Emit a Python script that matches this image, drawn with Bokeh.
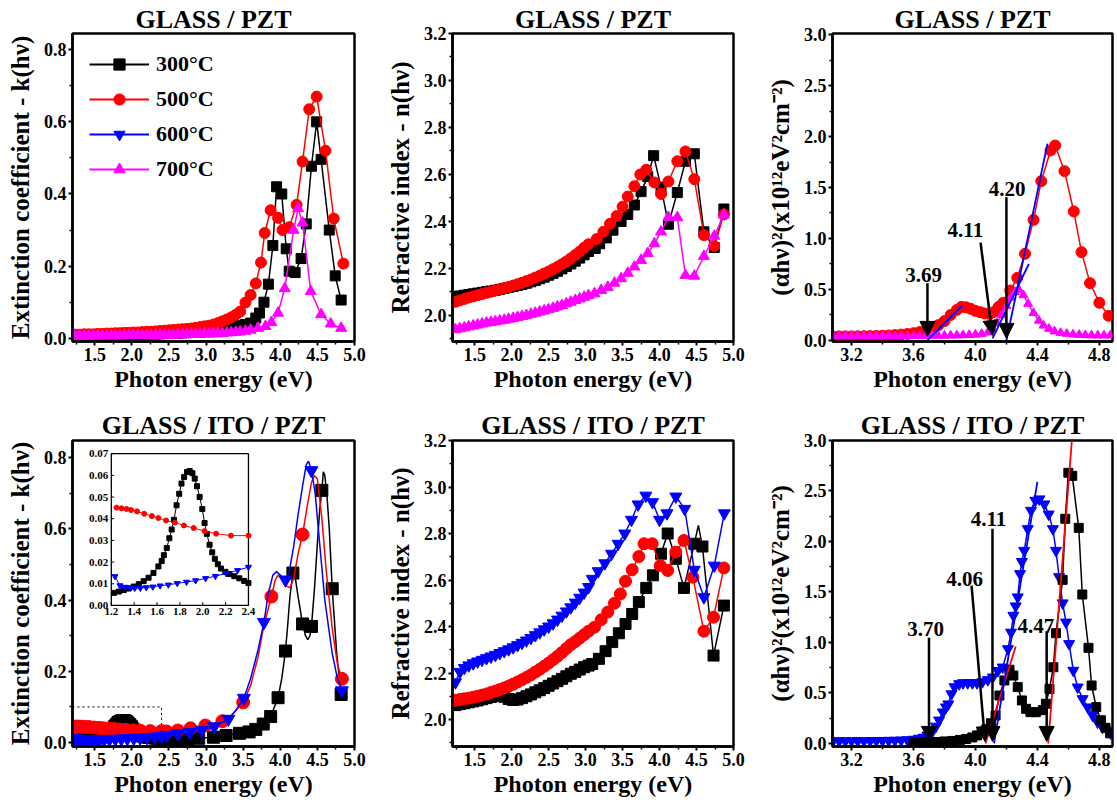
from bokeh.plotting import figure
from bokeh.layouts import row, column
from bokeh.models import (Range1d, FixedTicker, PrintfTickFormatter, Legend, LegendItem,
                          Arrow, NormalHead)
from bokeh.core.properties import value
from bokeh.embed import file_html
from bokeh.resources import INLINE

FONT = "Liberation Serif"
C300, C500, C600, C700 = "#000000", "#FF0000", "#0000FF", "#FF00FF"
NAN = float("nan")

# ---------------- shared tick values ----------------
x_ticks_wide = [1.5, 2.0, 2.5, 3.0, 3.5, 4.0, 4.5, 5.0]
x_minor_wide = [1.25, 1.75, 2.25, 2.75, 3.25, 3.75, 4.25, 4.75]
x_ticks_edge = [3.2, 3.6, 4.0, 4.4, 4.8]
x_minor_edge = [3.4, 3.8, 4.2, 4.6]
k_ticks = [0.0, 0.2, 0.4, 0.6, 0.8]
k_minor = [0.1, 0.3, 0.5, 0.7]
n_ticks = [2.0, 2.2, 2.4, 2.6, 2.8, 3.0, 3.2]
n_minor = [1.9, 2.1, 2.3, 2.5, 2.7, 2.9, 3.1]
a_ticks = [0.0, 0.5, 1.0, 1.5, 2.0, 2.5, 3.0]
a_minor = [0.25, 0.75, 1.25, 1.75, 2.25, 2.75]

legend_labels = ["300°C", "500°C", "600°C", "700°C"]

# ---------------- Panel A: GLASS/PZT extinction coefficient ----------------
e_low_a = [1.24, 1.30, 1.36, 1.42, 1.48, 1.54, 1.60, 1.66, 1.72, 1.78, 1.84, 1.90, 1.96, 2.02,
           2.08, 2.14, 2.20, 2.26, 2.32, 2.38, 2.44, 2.50, 2.56, 2.62, 2.68, 2.74, 2.80, 2.86,
           2.92, 2.98, 3.04, 3.10, 3.16, 3.22, 3.28, 3.34, 3.40, 3.46]
k300_a_low = [.008, .008, .008, .008, .008, .009, .009, .009, .009, .009, .010, .010, .010, .010,
              .011, .011, .011, .012, .012, .012, .013, .013, .014, .014, .015, .016, .017, .018,
              .019, .020, .021, .022, .024, .025, .027, .029, .032, .035]
k300_a_hi_x = [3.53, 3.60, 3.67, 3.72, 3.78, 3.84, 3.90, 3.95, 4.02, 4.08, 4.12, 4.20, 4.28, 4.35,
               4.42, 4.49, 4.55, 4.66, 4.74, 4.82]
k300_a_hi_y = [0.038, 0.042, 0.056, 0.07, 0.10, 0.15, 0.257, 0.42, 0.40, 0.248, 0.186, 0.182, 0.221,
               0.317, 0.477, 0.60, 0.496, 0.30, 0.173, 0.106]
k500_a_low = [.010, .010, .011, .011, .011, .012, .012, .013, .013, .014, .014, .015, .015, .016,
              .016, .017, .018, .018, .019, .020, .021, .022, .023, .024, .025, .026, .027, .029,
              .031, .033, .035, .038, .042, .047, .052, .058, .065, .074]
k500_a_hi_x = [3.53, 3.60, 3.67, 3.74, 3.79, 3.87, 3.97, 4.03, 4.12, 4.22, 4.30, 4.39, 4.49, 4.61,
               4.72, 4.85]
k500_a_hi_y = [0.099, 0.12, 0.152, 0.21, 0.292, 0.355, 0.334, 0.30, 0.308, 0.37, 0.49, 0.635, 0.67,
               0.52, 0.332, 0.207]
k700_a_low = [.007, .007, .007, .007, .007, .007, .007, .007, .007, .007, .007, .008, .008, .008,
              .008, .008, .008, .008, .009, .009, .009, .009, .009, .010, .010, .010, .011, .011,
              .011, .012, .012, .013, .013, .014, .015, .016, .017, .018]
k700_a_hi_x = [3.53, 3.60, 3.70, 3.80, 3.88, 3.97, 4.06, 4.18, 4.24, 4.30, 4.41, 4.55, 4.68, 4.82]
k700_a_hi_y = [0.020, 0.023, 0.028, 0.033, 0.044, 0.07, 0.138, 0.30, 0.36, 0.32, 0.13, 0.066, 0.04,
               0.028]

# ---------------- Panel B: GLASS/PZT refractive index ----------------
e_low_b = [1.24, 1.30, 1.36, 1.42, 1.48, 1.54, 1.60, 1.66, 1.72, 1.78, 1.84, 1.90, 1.96, 2.02,
           2.08, 2.14, 2.20, 2.26, 2.32, 2.38, 2.44, 2.50, 2.56, 2.62, 2.68, 2.74, 2.80, 2.86,
           2.92, 2.98, 3.04]
n300_b_low = [2.080, 2.083, 2.086, 2.089, 2.092, 2.095, 2.098, 2.101, 2.104, 2.107, 2.111, 2.115,
              2.119, 2.123, 2.127, 2.132, 2.137, 2.143, 2.149, 2.156, 2.163, 2.171, 2.179, 2.188,
              2.198, 2.208, 2.219, 2.231, 2.244, 2.258, 2.272]
n300_b_hi_x = [3.13, 3.19, 3.28, 3.37, 3.48, 3.57, 3.66, 3.75, 3.84, 3.92, 4.02, 4.12, 4.24, 4.35,
               4.47, 4.60, 4.74, 4.87]
n300_b_hi_y = [2.285, 2.305, 2.33, 2.363, 2.40, 2.43, 2.47, 2.527, 2.591, 2.68, 2.546, 2.388, 2.523,
               2.656, 2.688, 2.356, 2.289, 2.453]
n500_b_low = [2.058, 2.064, 2.070, 2.076, 2.081, 2.086, 2.091, 2.096, 2.101, 2.106, 2.111, 2.116,
              2.121, 2.127, 2.133, 2.139, 2.146, 2.153, 2.161, 2.169, 2.178, 2.187, 2.197, 2.207,
              2.218, 2.230, 2.243, 2.257, 2.272, 2.288, 2.303]
n500_b_hi_x = [3.15, 3.24, 3.33, 3.42, 3.50, 3.57, 3.66, 3.74, 3.82, 3.93, 4.02, 4.12, 4.24, 4.35,
               4.47, 4.60, 4.74, 4.87]
n500_b_hi_y = [2.325, 2.356, 2.39, 2.423, 2.463, 2.506, 2.55, 2.60, 2.62, 2.566, 2.517, 2.57, 2.656,
               2.698, 2.58, 2.342, 2.295, 2.43]
n700_b_low = [1.940, 1.944, 1.948, 1.952, 1.956, 1.960, 1.964, 1.968, 1.971, 1.974, 1.977, 1.980,
              1.984, 1.988, 1.992, 1.996, 2.000, 2.005, 2.010, 2.015, 2.020, 2.025, 2.031, 2.037,
              2.043, 2.050, 2.057, 2.064, 2.071, 2.078, 2.085]
n700_b_hi_x = [3.12, 3.21, 3.30, 3.39, 3.48, 3.57, 3.66, 3.75, 3.84, 3.93, 4.02, 4.12, 4.24, 4.35,
               4.47, 4.60, 4.74, 4.87]
n700_b_hi_y = [2.093, 2.107, 2.12, 2.138, 2.157, 2.18, 2.207, 2.235, 2.264, 2.306, 2.356, 2.418,
               2.417, 2.171, 2.168, 2.252, 2.338, 2.428]

# ---------------- Panel C: GLASS/PZT (alpha h nu)^2 ----------------
a500_c_x = [3.08, 3.12, 3.16, 3.20, 3.24, 3.28, 3.32, 3.36, 3.40, 3.44, 3.48, 3.52, 3.56, 3.60,
            3.64, 3.68, 3.72, 3.76, 3.80, 3.84, 3.88, 3.91, 3.94, 3.97, 4.00, 4.03, 4.06, 4.09,
            4.12, 4.15, 4.18, 4.225, 4.27, 4.32, 4.375, 4.425, 4.485, 4.515, 4.575, 4.635, 4.685,
            4.74, 4.80, 4.86]
a500_c_y = [.04, .04, .04, .04, .041, .042, .043, .045, .047, .05, .053, .058, .064, .072, .082,
            .095, .112, .15, .19, .25, .30, .33, .325, .31, .29, .278, .265, .26, .28, .33, .37,
            .49, .614, .85, 1.183, 1.562, 1.863, 1.912, 1.66, 1.265, .866, .562, .37, .242]
a700_c_x = [3.08, 3.12, 3.16, 3.20, 3.24, 3.28, 3.32, 3.36, 3.40, 3.44, 3.48, 3.52, 3.56, 3.60,
            3.64, 3.68, 3.72, 3.76, 3.80, 3.84, 3.88, 3.92, 3.96, 4.00, 4.04, 4.08, 4.11, 4.14,
            4.17, 4.20, 4.23, 4.255, 4.28, 4.31, 4.34, 4.375, 4.41, 4.44, 4.475, 4.51, 4.55, 4.59,
            4.63, 4.67, 4.71, 4.75, 4.79, 4.83, 4.87]
a700_c_y = [.045, .045, .045, .045, .045, .045, .045, .045, .045, .045, .045, .045, .045, .045,
            .046, .046, .047, .047, .048, .049, .050, .052, .055, .058, .065, .08, .11, .17, .25,
            .34, .42, .475, .50, .445, .36, .27, .195, .147, .115, .09, .075, .066, .06, .056,
            .053, .051, .05, .05, .05]
c_fit_x0 = [3.69, 4.20, 4.11]
c_fit_y0 = [0.0, 0.0, 0.02]
c_fit_x1 = [3.915, 4.465, 4.345]
c_fit_y1 = [0.343, 1.93, 0.75]
c_arrow_x0 = [3.69, 4.033, 4.20]
c_arrow_y0 = [0.56, 0.96, 1.405]
c_arrow_x1 = [3.69, 4.11, 4.20]
c_arrow_y1 = [0.04, 0.05, 0.02]
c_lab_text = ["3.69", "4.11", "4.20"]
c_lab_x = [3.665, 3.935, 4.205]
c_lab_y = [0.64, 1.085, 1.49]

# ---------------- Panel D: GLASS/ITO/PZT extinction coefficient (+ inset) ----------------
ins_300_x = [1.223, 1.266, 1.31, 1.353, 1.396, 1.44, 1.483, 1.526, 1.569, 1.612, 1.641, 1.66,
             1.685, 1.708, 1.728, 1.748, 1.771, 1.794, 1.814, 1.837, 1.863, 1.886, 1.91, 1.93,
             1.95, 1.973, 1.996, 2.016, 2.036, 2.06, 2.083, 2.106, 2.132, 2.16, 2.198, 2.233,
             2.276, 2.32, 2.363, 2.40]
ins_300_y = [0.0058, 0.0064, 0.0071, 0.0078, 0.0087, 0.0098, 0.0112, 0.0128, 0.0150, 0.0180,
             0.0205, 0.0232, 0.0265, 0.031, 0.035, 0.0395, 0.0462, 0.0515, 0.0562, 0.0592,
             0.0615, 0.062, 0.061, 0.0585, 0.055, 0.050, 0.0445, 0.038, 0.033, 0.028, 0.0245,
             0.0215, 0.019, 0.017, 0.0155, 0.0145, 0.0135, 0.0125, 0.0113, 0.0103]
ins_500_x = [1.246, 1.289, 1.333, 1.373, 1.425, 1.488, 1.555, 1.612, 1.679, 1.757, 1.835, 1.921,
             2.016, 2.117, 2.247, 2.40]
ins_500_y = [0.0451, 0.0448, 0.0445, 0.044, 0.0434, 0.0423, 0.0412, 0.0403, 0.0392, 0.0382,
             0.0369, 0.0357, 0.0343, 0.0331, 0.0322, 0.0322]
ins_600_x = [1.232, 1.275, 1.318, 1.362, 1.405, 1.454, 1.506, 1.563, 1.627, 1.699, 1.777, 1.858,
             1.938, 2.025, 2.111, 2.204, 2.305, 2.40]
ins_600_y = [0.0134, 0.0092, 0.0085, 0.0082, 0.008, 0.008, 0.0083, 0.0086, 0.0091, 0.0095,
             0.0102, 0.0108, 0.0115, 0.0125, 0.0135, 0.0148, 0.0162, 0.0177]
ins_xticks = [1.2, 1.4, 1.6, 1.8, 2.0, 2.2, 2.4]
ins_yticks = [0.00, 0.01, 0.02, 0.03, 0.04, 0.05, 0.06, 0.07]

k300_d_x = [2.47, 2.60, 2.75, 2.90, 3.10, 3.27, 3.45, 3.58, 3.67, 3.77, 3.87, 3.97, 4.07, 4.17,
            4.30, 4.42, 4.56, 4.70, 4.82]
k300_d_y = [0.0095, 0.009, 0.009, 0.012, 0.015, 0.020, 0.026, 0.030, 0.037, 0.052, 0.073, 0.126,
            0.257, 0.476, 0.333, 0.326, 0.708, 0.432, 0.135]
k300_d_curve_x = [3.97, 4.02, 4.07, 4.10, 4.13, 4.17, 4.20, 4.24, 4.30, 4.34, 4.37, 4.40, 4.42,
                  4.46, 4.50, 4.53, 4.56, 4.58, 4.60, 4.63, 4.66, 4.70, 4.76, 4.82]
k300_d_curve_y = [0.126, 0.18, 0.257, 0.33, 0.41, 0.476, 0.465, 0.41, 0.333, 0.30, 0.289, 0.30,
                  0.326, 0.43, 0.56, 0.65, 0.708, 0.76, 0.75, 0.69, 0.60, 0.432, 0.25, 0.135]
k500_d_x = [2.47, 2.62, 2.79, 2.99, 3.22, 3.50, 3.88, 4.30, 4.83]
k500_d_y = [0.031, 0.034, 0.040, 0.048, 0.060, 0.113, 0.41, 0.584, 0.179]
k500_d_curve_x = [3.22, 3.35, 3.50, 3.60, 3.70, 3.78, 3.88, 3.93, 3.97, 4.02, 4.08, 4.13, 4.18,
                  4.24, 4.30, 4.36, 4.42, 4.46, 4.50, 4.56, 4.62, 4.70, 4.77, 4.83]
k500_d_curve_y = [0.060, 0.078, 0.113, 0.16, 0.24, 0.33, 0.41, 0.455, 0.47, 0.46, 0.44, 0.435,
                  0.46, 0.53, 0.584, 0.66, 0.73, 0.75, 0.74, 0.63, 0.48, 0.32, 0.22, 0.179]
k600_d_x = [2.47, 2.62, 2.78, 2.94, 3.11, 3.30, 3.51, 3.78, 4.07, 4.42, 4.83]
k600_d_y = [0.021, 0.025, 0.029, 0.035, 0.045, 0.066, 0.125, 0.338, 0.457, 0.764, 0.146]
k600_d_curve_x = [3.30, 3.40, 3.51, 3.60, 3.70, 3.78, 3.84, 3.90, 3.95, 4.00, 4.07, 4.12, 4.18,
                  4.24, 4.30, 4.35, 4.38, 4.42, 4.47, 4.53, 4.60, 4.70, 4.77, 4.83]
k600_d_curve_y = [0.066, 0.09, 0.125, 0.18, 0.26, 0.338, 0.42, 0.47, 0.48, 0.47, 0.457, 0.48,
                  0.55, 0.64, 0.72, 0.78, 0.79, 0.764, 0.70, 0.56, 0.40, 0.25, 0.18, 0.146]
zoom_box_x = [1.2, 2.4, 2.4]
zoom_box_y = [0.10, 0.10, -0.011]

# ---------------- Panel E: GLASS/ITO/PZT refractive index ----------------
e_low_e = [1.24, 1.30, 1.36, 1.42, 1.48, 1.54, 1.60, 1.66, 1.72, 1.78, 1.84, 1.90, 1.96, 2.02,
           2.08, 2.14, 2.20, 2.26, 2.32, 2.38, 2.44, 2.50, 2.56, 2.62, 2.68, 2.74, 2.80, 2.86,
           2.92, 2.98, 3.04]
n300_e_low = [2.062, 2.066, 2.070, 2.074, 2.078, 2.082, 2.087, 2.092, 2.097, 2.102, 2.104, 2.098,
              2.088, 2.084, 2.086, 2.092, 2.100, 2.108, 2.117, 2.126, 2.135, 2.145, 2.155, 2.165,
              2.175, 2.186, 2.197, 2.205, 2.215, 2.225, 2.232]
n300_e_hi_x = [3.09, 3.18, 3.27, 3.36, 3.45, 3.54, 3.63, 3.72, 3.82, 3.91, 4.02, 4.11, 4.22, 4.33,
               4.47, 4.58, 4.73, 4.87]
n300_e_hi_y = [2.239, 2.261, 2.294, 2.333, 2.371, 2.411, 2.454, 2.505, 2.566, 2.62, 2.713, 2.80,
               2.691, 2.566, 2.756, 2.744, 2.275, 2.49]
n300_e_crest = (4.525, 2.835)
n500_e_low = [2.083, 2.086, 2.089, 2.092, 2.096, 2.100, 2.105, 2.110, 2.116, 2.122, 2.129, 2.136,
              2.144, 2.152, 2.161, 2.171, 2.181, 2.192, 2.204, 2.216, 2.229, 2.243, 2.257, 2.272,
              2.288, 2.305, 2.322, 2.335, 2.350, 2.365, 2.380]
n500_e_hi_x = [3.12, 3.21, 3.30, 3.39, 3.47, 3.54, 3.63, 3.72, 3.79, 3.90, 4.01, 4.11, 4.22, 4.33,
               4.45, 4.60, 4.73, 4.87]
n500_e_hi_y = [2.397, 2.429, 2.462, 2.50, 2.54, 2.595, 2.644, 2.701, 2.756, 2.756, 2.662, 2.641,
               2.72, 2.77, 2.612, 2.38, 2.44, 2.652]
n600_e_low = [2.160, 2.205, 2.222, 2.233, 2.242, 2.250, 2.257, 2.264, 2.271, 2.278, 2.286, 2.294,
              2.302, 2.311, 2.320, 2.330, 2.340, 2.351, 2.363, 2.375, 2.388, 2.400, 2.414, 2.430,
              2.447, 2.465, 2.483, 2.503, 2.524, 2.546, 2.570]
n600_e_hi_x = [3.09, 3.17, 3.26, 3.35, 3.44, 3.53, 3.62, 3.71, 3.815, 3.905, 4.00, 4.10, 4.22,
               4.34, 4.47, 4.60, 4.74, 4.875]
n600_e_hi_y = [2.605, 2.638, 2.672, 2.713, 2.756, 2.80, 2.859, 2.925, 2.963, 2.935, 2.859, 2.887,
               2.959, 2.906, 2.644, 2.526, 2.662, 2.887]

# ---------------- Panel F: GLASS/ITO/PZT (alpha h nu)^2 ----------------
a600_f_x = [3.08, 3.12, 3.16, 3.20, 3.24, 3.28, 3.32, 3.36, 3.40, 3.44, 3.48, 3.52, 3.56, 3.60,
            3.635, 3.665, 3.69, 3.715, 3.745, 3.765, 3.79, 3.81, 3.825, 3.845, 3.865, 3.895,
            3.92, 3.95, 3.98, 4.01, 4.045, 4.08, 4.112, 4.145, 4.176, 4.21, 4.23, 4.245, 4.26,
            4.273, 4.288, 4.30, 4.315, 4.338, 4.359, 4.387, 4.413, 4.445, 4.473, 4.50, 4.52,
            4.54, 4.563, 4.585, 4.605, 4.632, 4.66, 4.692, 4.725, 4.757, 4.789, 4.821, 4.855,
            4.875]
a600_f_y = [.025, .025, .025, .025, .026, .026, .027, .027, .028, .029, .03, .032, .035, .04,
            .05, .06, .08, .10, .17, .23, .31, .36, .39, .49, .56, .59, .60, .60, .60, .60, .61,
            .63, .656, .72, .755, .937, 1.10, 1.267, 1.36, 1.449, 1.68, 1.80, 1.91, 2.125, 2.307,
            2.406, 2.42, 2.37, 2.27, 2.125, 1.91, 1.65, 1.39, 1.20, .987, .723, .557, .442, .36,
            .277, .21, .16, .13, .10]
a300_f_x = [3.60, 3.65, 3.70, 3.75, 3.80, 3.85, 3.90, 3.94, 3.98, 4.01, 4.04, 4.07, 4.10, 4.13,
            4.155, 4.187, 4.22, 4.245, 4.273, 4.30, 4.327, 4.355, 4.39, 4.435, 4.455, 4.478,
            4.503, 4.52, 4.563, 4.58, 4.60, 4.625, 4.667, 4.69, 4.73, 4.75, 4.78, 4.81, 4.84,
            4.87]
a300_f_y = [.008, .009, .01, .015, .02, .025, .035, .045, .06, .08, .11, .14, .20, .277, .475,
            .624, .73, .673, .558, .426, .343, .31, .31, .33, .393, .54, .755, 1.092, 1.62, 2.225,
            2.68, 2.65, 2.135, 1.475, .947, .574, .36, .23, .155, .10]
f_red_fit_x0 = [4.065, 4.47]
f_red_fit_y0 = [0.0, 0.0]
f_red_fit_x1 = [4.26, 4.625]
f_red_fit_y1 = [0.96, 3.05]
f_blue_fit_x0 = [4.12]
f_blue_fit_y0 = [0.0]
f_blue_fit_x1 = [4.40]
f_blue_fit_y1 = [2.59]
f_arrow_x0 = [3.70, 3.975, 4.11, 4.46]
f_arrow_y0 = [1.046, 1.564, 2.125, 1.112]
f_arrow_x1 = [3.70, 4.062, 4.11, 4.46]
f_arrow_y1 = [0.02, 0.02, 0.02, 0.02]
f_lab_text = ["3.70", "4.06", "4.11", "4.47"]
f_lab_x = [3.678, 3.93, 4.084, 4.39]
f_lab_y = [1.135, 1.63, 2.225, 1.168]

# ---------------- layout constants (page origin at 0,0) ----------------
COL_W = [382, 370, 363]
COL_BL = [72, 70, 80]
COL_BR = [28, 19, 3]
ROW_H = [400, 401]
ROW_BT = [33, 40]
ROW_BB = [59, 55]
TITLE_STANDOFF = [0, 2]

TXT = dict(text_font=value(FONT), text_font_style="bold", text_color="black")


def make_fig(r, c, xr, yr, xt, xm, yt, ym, ylabel, title):
    p = figure(width=COL_W[c], height=ROW_H[r], x_range=Range1d(*xr), y_range=Range1d(*yr),
               output_backend="svg", toolbar_location=None, title=title,
               min_border_left=COL_BL[c], min_border_right=COL_BR[c],
               min_border_top=ROW_BT[r], min_border_bottom=ROW_BB[r])
    p.title.align = "center"
    p.title.text_font = FONT
    p.title.text_font_style = "bold"
    p.title.text_font_size = "26px"
    p.title.text_color = "black"
    p.title.standoff = TITLE_STANDOFF[r]
    p.xgrid.visible = False
    p.ygrid.visible = False
    p.outline_line_color = "black"
    p.outline_line_width = 2.5
    p.outline_line_alpha = 1.0
    p.background_fill_color = "white"
    p.border_fill_color = "white"
    p.xaxis.ticker = FixedTicker(ticks=xt, minor_ticks=xm)
    p.yaxis.ticker = FixedTicker(ticks=yt, minor_ticks=ym)
    p.xaxis.formatter = PrintfTickFormatter(format="%.1f")
    p.yaxis.formatter = PrintfTickFormatter(format="%.1f")
    p.xaxis.axis_label = "Photon energy (eV)"
    p.yaxis.axis_label = ylabel
    for ax in (p.xaxis[0], p.yaxis[0]):
        ax.axis_line_width = 2.5
        ax.axis_line_color = "black"
        ax.major_tick_line_width = 2
        ax.minor_tick_line_width = 1.5
        ax.major_tick_line_color = "black"
        ax.minor_tick_line_color = "black"
        ax.major_tick_in = 0
        ax.major_tick_out = 4
        ax.minor_tick_in = 0
        ax.minor_tick_out = 3
        ax.major_label_text_font = FONT
        ax.major_label_text_font_style = "bold"
        ax.major_label_text_font_size = "18px"
        ax.major_label_text_color = "black"
        ax.major_label_standoff = 2
        ax.axis_label_text_font = FONT
        ax.axis_label_text_font_style = "bold"
        ax.axis_label_text_color = "black"
    p.xaxis.axis_label_text_font_size = "24px"
    p.xaxis.axis_label_standoff = 2
    p.yaxis.axis_label_text_font_size = "25px"
    p.yaxis.axis_label_standoff = 7
    return p


def series(p, x, y, color, marker, size, lx=None, ly=None, lw=1.5):
    p.line(x if lx is None else lx, y if ly is None else ly, line_color=color, line_width=lw)
    p.scatter(x, y, marker=marker, size=size, fill_color=color, line_color=color)


def arrows(p, x0, y0, x1, y1):
    for a, b, cc, d in zip(x0, y0, x1, y1):
        p.add_layout(Arrow(end=NormalHead(size=15, fill_color="black", line_color="black",
                                          line_width=1),
                           x_start=a, y_start=b, x_end=cc, y_end=d,
                           line_width=2.5, line_color="black"))


K_LABEL = "Extinction coefficient - k(hν)"
N_LABEL = "Refractive index - n(hν)"
A_LABEL = "(αhν)²(x10¹²eV²cm⁻²)"

# ---- Panel A
pA = make_fig(0, 0, (1.2, 5.0), (-0.009, 0.845), x_ticks_wide, x_minor_wide, k_ticks, k_minor,
              K_LABEL, "GLASS / PZT")
series(pA, e_low_a + k300_a_hi_x, k300_a_low + k300_a_hi_y, C300, "square", 10)
series(pA, e_low_a + k500_a_hi_x, k500_a_low + k500_a_hi_y, C500, "circle", 11)
series(pA, e_low_a + k700_a_hi_x, k700_a_low + k700_a_hi_y, C700, "triangle", 11)
items = []
for lab, col, mk in zip(legend_labels, [C300, C500, C600, C700],
                        ["square", "circle", "inverted_triangle", "triangle"]):
    lr = pA.line([NAN], [NAN], line_color=col, line_width=2)
    sr = pA.scatter([NAN], [NAN], marker=mk, size=21, fill_color=col, line_color=col)
    items.append(LegendItem(label=lab, renderers=[lr, sr]))
leg = Legend(items=items, location="top_left", border_line_color=None, background_fill_alpha=0,
             label_text_font=FONT, label_text_font_style="bold", label_text_font_size="22px",
             label_text_color="black",
             glyph_width=60, glyph_height=28, label_height=28, spacing=7, margin=17, padding=12,
             label_standoff=7)
pA.add_layout(leg)

# ---- Panel B
pB = make_fig(0, 1, (1.2, 5.0), (1.889, 3.2), x_ticks_wide, x_minor_wide, n_ticks, n_minor,
              N_LABEL, "GLASS / PZT")
series(pB, e_low_b + n300_b_hi_x, n300_b_low + n300_b_hi_y, C300, "square", 10)
series(pB, e_low_b + n500_b_hi_x, n500_b_low + n500_b_hi_y, C500, "circle", 11)
series(pB, e_low_b + n700_b_hi_x, n700_b_low + n700_b_hi_y, C700, "triangle", 11)

# ---- Panel C
pC = make_fig(0, 2, (3.077, 4.885), (-0.01, 3.01), x_ticks_edge, x_minor_edge, a_ticks, a_minor,
              A_LABEL, "GLASS / PZT")
series(pC, a500_c_x, a500_c_y, C500, "circle", 11)
series(pC, a700_c_x, a700_c_y, C700, "triangle", 9)
pC.segment(c_fit_x0, c_fit_y0, c_fit_x1, c_fit_y1, line_color=C600, line_width=1.8)
arrows(pC, c_arrow_x0, c_arrow_y0, c_arrow_x1, c_arrow_y1)
pC.text(c_lab_x, c_lab_y, text=c_lab_text, text_align="center", text_baseline="alphabetic",
        text_font_size="21px", **TXT)

# ---- Panel D
pD = make_fig(1, 0, (1.2, 5.0), (-0.011, 0.848), x_ticks_wide, x_minor_wide, k_ticks, k_minor,
              K_LABEL, "GLASS / ITO / PZT")
pD.line(zoom_box_x, zoom_box_y, line_color="black", line_width=1, line_dash="2 3")
series(pD, ins_300_x + k300_d_x, ins_300_y + k300_d_y, C300, "square", 12,
       lx=ins_300_x + k300_d_x[:11] + k300_d_curve_x,
       ly=ins_300_y + k300_d_y[:11] + k300_d_curve_y)
series(pD, ins_500_x + k500_d_x, ins_500_y + k500_d_y, C500, "circle", 13,
       lx=ins_500_x + k500_d_x[:4] + k500_d_curve_x,
       ly=ins_500_y + k500_d_y[:4] + k500_d_curve_y)
series(pD, ins_600_x + k600_d_x, ins_600_y + k600_d_y, C600, "inverted_triangle", 13,
       lx=ins_600_x + k600_d_x[:5] + k600_d_curve_x,
       ly=ins_600_y + k600_d_y[:5] + k600_d_curve_y)
ins = pD.subplot(x_source=Range1d(1.2, 2.4), y_source=Range1d(0.0, 0.07),
                 x_target=Range1d(1.723, 3.571), y_target=Range1d(0.385, 0.811))
ins.quad(left=[ins_xticks[0]], right=[ins_xticks[-1]], bottom=[ins_yticks[0]],
         top=[ins_yticks[-1]], fill_color="white", line_color="black", line_width=1.3)
ins.line(ins_300_x, ins_300_y, line_color=C300, line_width=1)
ins.scatter(ins_300_x, ins_300_y, marker="square", size=5, fill_color=C300, line_color=C300)
ins.line(ins_500_x, ins_500_y, line_color=C500, line_width=1)
ins.scatter(ins_500_x, ins_500_y, marker="circle", size=5, fill_color=C500, line_color=C500)
ins.line(ins_600_x, ins_600_y, line_color=C600, line_width=1)
ins.scatter(ins_600_x, ins_600_y, marker="inverted_triangle", size=6, fill_color=C600,
            line_color=C600)
ins.segment(ins_xticks, [ins_yticks[0]] * len(ins_xticks), ins_xticks,
            [0.0015] * len(ins_xticks), line_color="black", line_width=1)
ins.segment([ins_xticks[0]] * len(ins_yticks), ins_yticks, [1.225] * len(ins_yticks),
            ins_yticks, line_color="black", line_width=1)
ins.text(ins_xticks, [ins_yticks[0]] * len(ins_xticks), text=["%.1f" % t for t in ins_xticks],
         text_align="center", text_baseline="top", y_offset=3, text_font_size="11px", **TXT)
ins.text([ins_xticks[0]] * len(ins_yticks), ins_yticks, text=["%.2f" % t for t in ins_yticks],
         text_align="right", text_baseline="middle", x_offset=-3, text_font_size="11px", **TXT)

# ---- Panel E
pE = make_fig(1, 1, (1.2, 5.0), (1.884, 3.2), x_ticks_wide, x_minor_wide, n_ticks, n_minor,
              N_LABEL, "GLASS / ITO / PZT")
n300_e_line_x = e_low_e + n300_e_hi_x[:15] + [n300_e_crest[0]] + n300_e_hi_x[15:]
n300_e_line_y = n300_e_low + n300_e_hi_y[:15] + [n300_e_crest[1]] + n300_e_hi_y[15:]
series(pE, e_low_e + n300_e_hi_x, n300_e_low + n300_e_hi_y, C300, "square", 11,
       lx=n300_e_line_x, ly=n300_e_line_y)
series(pE, e_low_e + n500_e_hi_x, n500_e_low + n500_e_hi_y, C500, "circle", 12)
series(pE, e_low_e + n600_e_hi_x, n600_e_low + n600_e_hi_y, C600, "inverted_triangle", 12)

# ---- Panel F
pF = make_fig(1, 2, (3.077, 4.885), (-0.03, 3.0), x_ticks_edge, x_minor_edge, a_ticks, a_minor,
              A_LABEL, "GLASS / ITO / PZT")
series(pF, a600_f_x, a600_f_y, C600, "inverted_triangle", 11)
series(pF, a300_f_x, a300_f_y, C300, "square", 9)
pF.segment(f_red_fit_x0, f_red_fit_y0, f_red_fit_x1, f_red_fit_y1, line_color=C500,
           line_width=1.8)
pF.segment(f_blue_fit_x0, f_blue_fit_y0, f_blue_fit_x1, f_blue_fit_y1, line_color=C600,
           line_width=1.8)
arrows(pF, f_arrow_x0, f_arrow_y0, f_arrow_x1, f_arrow_y1)
pF.text(f_lab_x, f_lab_y, text=f_lab_text, text_align="center", text_baseline="alphabetic",
        text_font_size="21px", **TXT)

layout = column(row(pA, pB, pC), row(pD, pE, pF))
open("out.html", "w").write(file_html(layout, INLINE))
